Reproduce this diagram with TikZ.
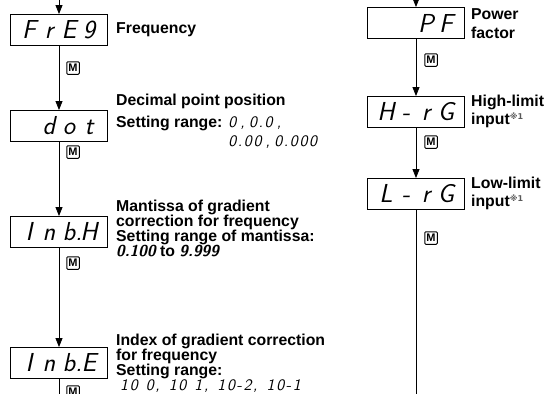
\documentclass[tikz,border=0pt]{standalone}
\usepackage{fontspec}
\setmainfont{Liberation Sans}
\newfontfamily\refmark{DejaVu Sans}
\newfontfamily\lcdfont{lmsans10-oblique.otf}[LetterSpace=10,WordSpace=0.6]
\usetikzlibrary{arrows.meta}

% seven segment look
\newcommand{\cell}[1]{\makebox[20pt][c]{#1}}
\newcommand{\lcd}[1]{{\lcdfont\fontsize{16}{16}\selectfont #1}}
\newcommand{\lcdb}[1]{{\sffamily\bfseries\itshape #1}}
\newcommand{\blank}{\hphantom{0}}
\newcommand{\note}{\textsuperscript{\color{black!65}\refmark\fontsize{8}{8}\selectfont ※1}}

\begin{document}
\begin{tikzpicture}[x=1pt,y=-1pt]
\useasboundingbox (0,0) rectangle (558,394);
\clip (0,0) rectangle (558,394);

\coordinate (leftin) at (59,0);
\coordinate (leftout) at (59,400);
\coordinate (rightin) at (416,0);
\coordinate (rightout) at (416,400);

\begin{scope}[every node/.style={draw,line width=0.9pt,minimum width=97pt,minimum height=31pt,inner sep=0pt,
                                  font=\sffamily\itshape\fontsize{26}{26}\selectfont}]
    \node (freq) at (59,30) {\cell{F}\cell{r}\cell{E}\cell{9}};
    \node (dot) at (59,126) {\cell{}\cell{d}\cell{o}\cell{t}};
    \node (inbh) at (59,232) {\cell{I}\cell{n}\cell{b\rlap{.}}\cell{H}};
    \node (inbe) at (59,363) {\cell{I}\cell{n}\cell{b\rlap{.}}\cell{E}};

    \node (pf) at (416,23) {\cell{}\cell{}\cell{P}\cell{F}};
    \node (hrg) at (416,112) {\cell{H}\cell{-}\cell{r}\cell{G}};
    \node (lrg) at (416,194) {\cell{L}\cell{-}\cell{r}\cell{G}};
\end{scope}

\begin{scope}[every node/.style={draw,line width=1pt,minimum size=12.5pt,inner sep=0pt,rounded corners=1pt,
                                  font=\bfseries\fontsize{11}{11}\selectfont}]
    \node (m1) at (73,68) {M};
    \node (m2) at (73,152) {M};
    \node (m3) at (73,263) {M};
    \node (m4) at (73,392) {M};

    \node (m5) at (431,60) {M};
    \node (m6) at (431,142) {M};
    \node (m7) at (431,238) {M};
\end{scope}

\begin{scope}[every node/.style={inner sep=0pt,align=left,font=\bfseries\fontsize{15.8}{15}\selectfont,
                                  execute at begin node={\lineskiplimit=-20pt}}]
    \node[anchor=west] (freqtxt) at (116,30) {Frequency};
    \node[anchor=west] (dottxt) at (116,101) {Decimal point position};
    \node[anchor=north west,font=\bfseries\fontsize{15.8}{19}\selectfont] (dotrange) at (116,116)
        {Setting range: \lcd{0 , 0.0 ,}\\\hphantom{Setting range: }\lcd{0.00 , 0.000}};
    \node[anchor=north west] (inbhtxt) at (116,200) {Mantissa of gradient\\correction for frequency\\
        Setting range of mantissa:\\\lcdb{0.100} to \lcdb{9.999}};
    \node[anchor=north west] (inbetxt) at (116,334) {Index of gradient correction\\for frequency\\
        Setting range:\\\hspace*{4pt}\lcd{10\blank0,\hspace{9pt}10\blank1,\hspace{9pt}10-2,\hspace{9pt}10-1}};

    \node[anchor=north west,font=\bfseries\fontsize{15.8}{19}\selectfont] (pftxt) at (471,8) {Power\\factor};
    \node[anchor=north west,font=\bfseries\fontsize{15.8}{18}\selectfont] (hrgtxt) at (471,95) {High-limit\\input\note};
    \node[anchor=north west,font=\bfseries\fontsize{15.8}{18}\selectfont] (lrgtxt) at (471,177) {Low-limit\\input\note};
\end{scope}

\begin{scope}[>={Triangle[width=7pt,length=9pt]},
              every edge/.style={draw=black,line width=0.9pt}]
    \path [->] (leftin) edge (freq);
    \path [->] (freq) edge (dot);
    \path [->] (dot) edge (inbh);
    \path [->] (inbh) edge (inbe);
    \path (inbe) edge (leftout);

    \path [->] (rightin) edge (pf);
    \path [->] (pf) edge (hrg);
    \path [->] (hrg) edge (lrg);
    \path (lrg) edge (rightout);
\end{scope}
\end{tikzpicture}
\end{document}
